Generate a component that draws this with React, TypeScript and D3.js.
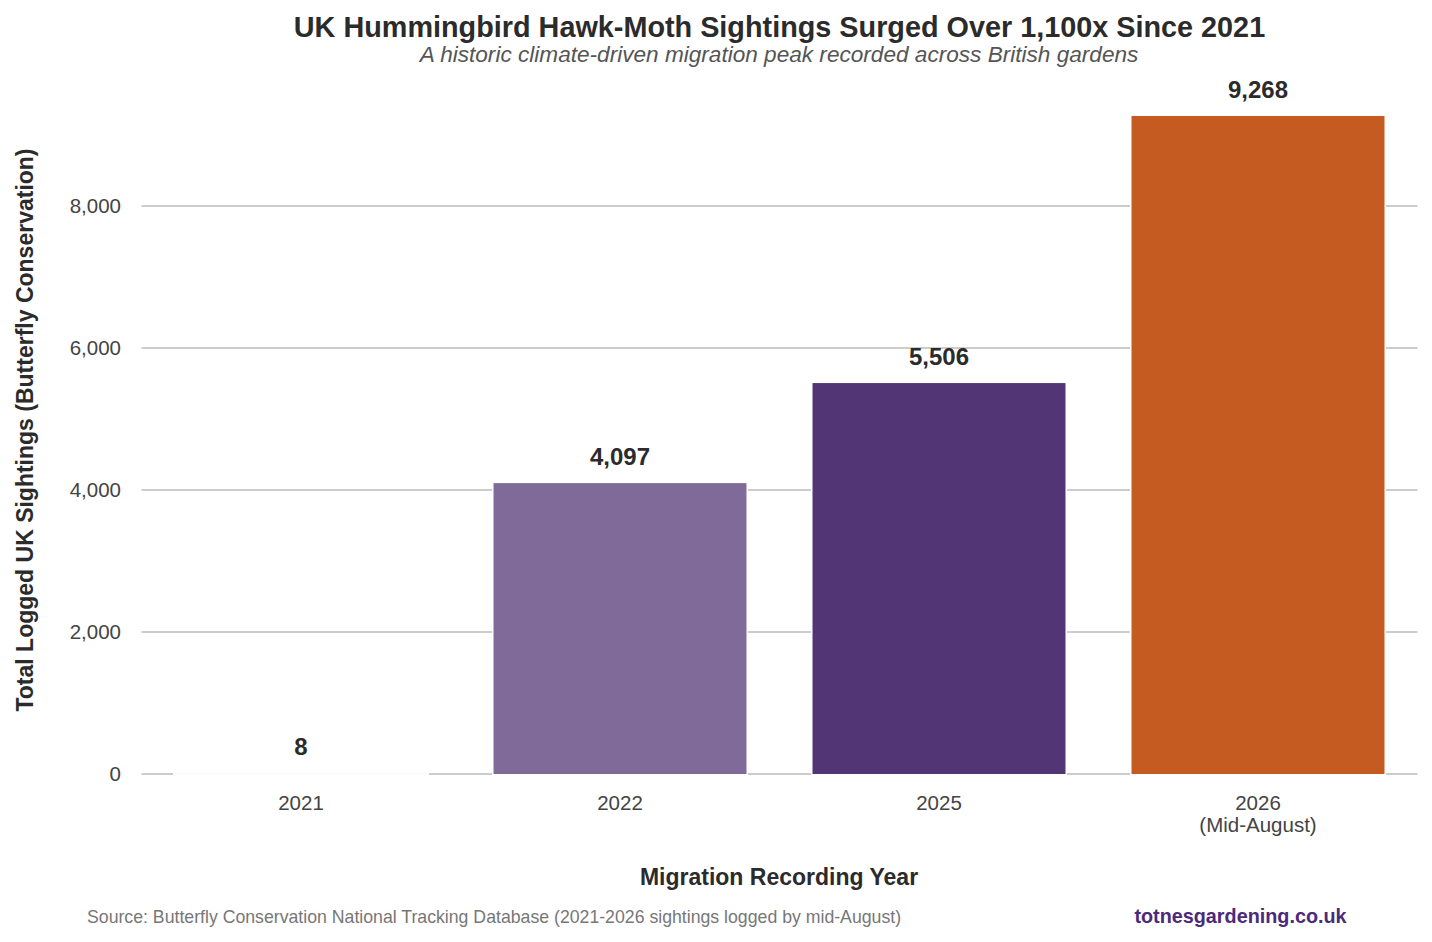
import React from "react";
import * as d3 from "d3";

const years = ["2021", "2022", "2025", "2026"];
const yearNotes = ["", "", "", "(Mid-August)"];
const sightings = [8, 4097, 5506, 9268];
const barColors = ["#f4f2f8", "#806a9a", "#523575", "#c65b22"];
const yTicks = [0, 2000, 4000, 6000, 8000];

const width = 1432;
const height = 942;
const marginLeft = 141.5;
const marginRight = 14.5;
const zeroY = 774;

export default function App() {
    // band scale for the recording years
    const x = d3.scaleBand<string>()
        .domain(years)
        .range([marginLeft, width - marginRight])
        .paddingInner(0.207)
        .paddingOuter(0.1035);

    // linear scale for the sightings, 8,000 sits at y=206
    const y = d3.scaleLinear([0, 8000], [zeroY, 206]);

    const fmt = d3.format(",");
    const font = "'Liberation Sans', Arial, sans-serif";

    return (
        <svg width={width} height={height} style={{ position: "absolute", left: 0, top: 0, fontFamily: font }}>
            <rect width={width} height={height} fill="white" />

            <text x={779.5} y={36.5} textAnchor="middle" fontSize={28.8} fontWeight="bold" fill="#2b2b2b">
                UK Hummingbird Hawk-Moth Sightings Surged Over 1,100x Since 2021
            </text>
            <text x={779} y={62} textAnchor="middle" fontSize={22.6} fontStyle="italic" fill="#555">
                A historic climate-driven migration peak recorded across British gardens
            </text>

            {/* gridlines */}
            <g stroke="#cccccc" strokeWidth={2}>
                {yTicks.map(t => (
                    <line key={t} x1={marginLeft} x2={width - marginRight} y1={y(t)} y2={y(t)} />
                ))}
            </g>

            {/* y tick labels */}
            <g fontSize={20.5} fill="#444" textAnchor="end">
                {yTicks.map(t => (
                    <text key={t} x={121} y={y(t)} dy="0.35em">{fmt(t)}</text>
                ))}
            </g>

            {/* bars with a white outline that cuts the gridlines */}
            <g>
                {sightings.map((d, i) => (
                    <rect key={years[i]}
                        x={x(years[i])!}
                        y={y(d)}
                        width={x.bandwidth()}
                        height={zeroY - y(d)}
                        fill={barColors[i]}
                        stroke="white"
                        strokeWidth={3}
                        paintOrder="stroke" />
                ))}
            </g>

            {/* value labels */}
            <g fontSize={24} fontWeight="bold" fill="#2b2b2b" textAnchor="middle">
                {sightings.map((d, i) => (
                    <text key={years[i]} x={x(years[i])! + x.bandwidth() / 2} y={y(d) - 18}>{fmt(d)}</text>
                ))}
            </g>

            {/* x tick labels */}
            <g fontSize={20.5} fill="#444" textAnchor="middle">
                {years.map((yr, i) => (
                    <text key={yr} x={x(yr)! + x.bandwidth() / 2} y={810}>
                        <tspan x={x(yr)! + x.bandwidth() / 2}>{yr}</tspan>
                        {yearNotes[i] && <tspan x={x(yr)! + x.bandwidth() / 2} dy={22}>{yearNotes[i]}</tspan>}
                    </text>
                ))}
            </g>

            <text x={779} y={885} textAnchor="middle" fontSize={23} fontWeight="bold" fill="#2b2b2b">
                Migration Recording Year
            </text>
            <text transform="translate(33,430) rotate(-90)" textAnchor="middle" fontSize={23} fontWeight="bold" fill="#2b2b2b">
                Total Logged UK Sightings (Butterfly Conservation)
            </text>

            <text x={87} y={923} fontSize={17.7} fill="#777">
                Source: Butterfly Conservation National Tracking Database (2021-2026 sightings logged by mid-August)
            </text>
            <text x={1240.5} y={923} textAnchor="middle" fontSize={19.8} fontWeight="bold" fill="#4b2a7b">
                totnesgardening.co.uk
            </text>
        </svg>
    );
}
